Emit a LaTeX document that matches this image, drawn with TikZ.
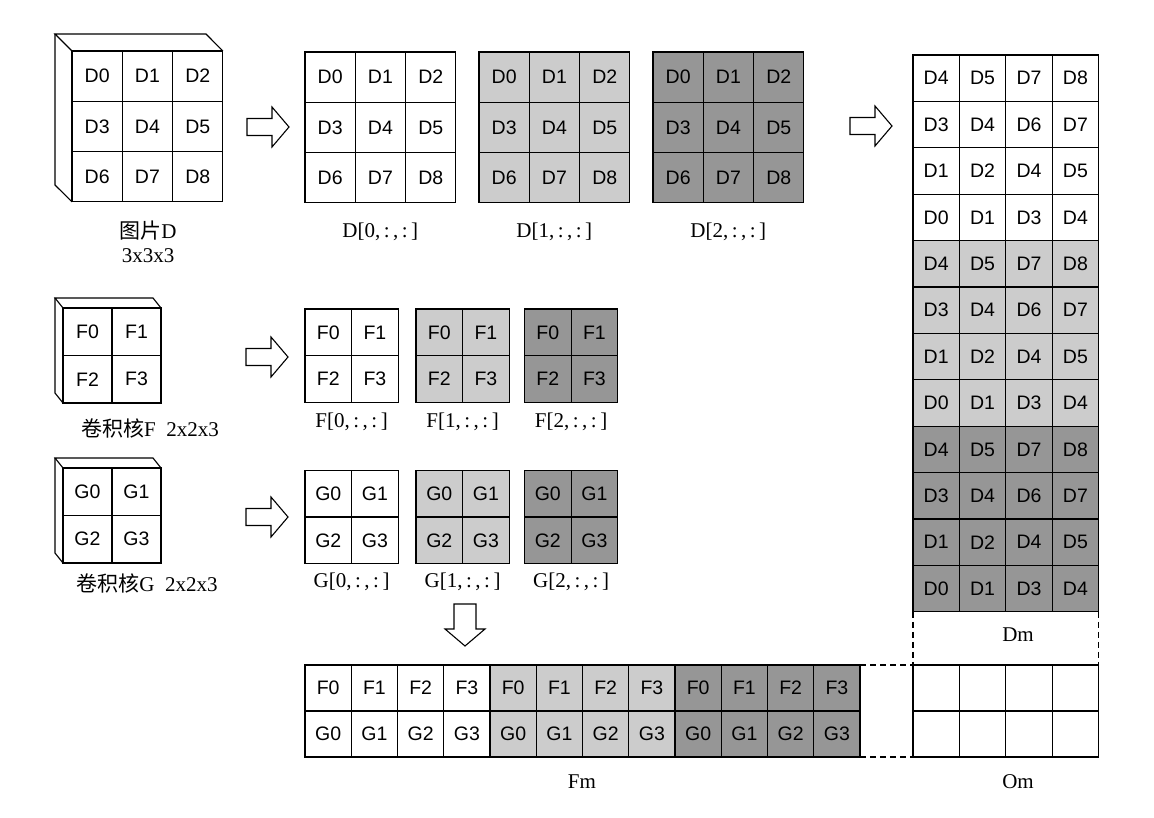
\documentclass[tikz,border=0pt]{standalone}
\usepackage{fontspec}
\setmainfont{Liberation Serif}
\setsansfont{Liberation Sans}
\newfontfamily\cjk{Noto Sans CJK SC}
\usepackage{tikz}
\colorlet{midgray}{black!20}
\colorlet{deepgray}{black!41}

\begin{document}
\begin{tikzpicture}[x=1pt, y=-1pt,
    edge/.style={line width=1.1pt},
    cell/.style={draw, edge, fill=white, inner sep=0pt, outer sep=0pt, anchor=north west,
      font=\sffamily\fontsize{19.5}{20}\selectfont},
    dcell/.style={cell, minimum width=50.3, minimum height=50.3},
    mcell/.style={cell, minimum width=46.4, minimum height=46.4},
    ocell/.style={cell, minimum width=46.4, minimum height=46},
    fmcell/.style={cell, minimum width=46.25, minimum height=46},
    kcell/.style={cell, minimum width=49, minimum height=47.5},
    scell/.style={cell, minimum width=46.6, minimum height=46.7},
    lbl/.style={font=\fontsize{21}{22}\selectfont},
    cjklbl/.style={font=\fontsize{21}{23}\selectfont},
    link/.style={edge, dash pattern=on 6pt off 4pt},
    rarrow/.pic={\draw[edge, fill=white] (0,-8.5) -- (25,-8.5) -- (25,-20) -- (42,0)
      -- (25,20) -- (25,8.5) -- (0,8.5) -- cycle;},
    darrow/.pic={\draw[edge, fill=white] (-11,0) -- (11,0) -- (11,25) -- (20,25)
      -- (0,42) -- (-20,25) -- (-11,25) -- cycle;}]

    \useasboundingbox (0,0) rectangle (1154,818);

    \foreach \rr in {0,1,2} {
      \foreach \cc in {0,1,2} {
        \pgfmathtruncatemacro\idx{3*\rr+\cc}
        \node [dcell] (pd-\idx) at ({72+50.3*\cc}, {51+50.3*\rr}) {D\idx};
      }
    }
    \draw [edge] (pd-0.north west) -- ++(-17,-17) -- ++(151,0) -- (pd-2.north east);
    \draw [edge] (pd-0.north west) ++(-17,-17) -- ++(0,151) -- (pd-6.south west);
    \node [cjklbl] (pdname) at (148,231) {{\cjk 图片}D};
    \node [lbl] (pdsize) at (148,256) {3x3x3};

    \foreach \k/\x/\col in {0/305/white, 1/479/midgray, 2/653/deepgray} {
      \foreach \rr in {0,1,2} {
        \foreach \cc in {0,1,2} {
          \pgfmathtruncatemacro\idx{3*\rr+\cc}
          \node [dcell, fill=\col] (d\k-\idx) at ({\x+50.3*\cc}, {52+50.3*\rr}) {D\idx};
        }
      }
      \node [lbl] (dlab\k) at ({\x+75.3}, 232) {D[\k,\,:\,,\,:\,]};
    }

    \foreach \b/\col in {0/white, 1/midgray, 2/deepgray} {
      \foreach \rr/\va/\vb/\vc/\vd in {0/4/5/7/8, 1/3/4/6/7, 2/1/2/4/5, 3/0/1/3/4} {
        \foreach \v [count=\cc from 0] in {\va,\vb,\vc,\vd} {
          \node [mcell, fill=\col] (dm-\b-\rr-\cc) at ({913+46.4*\cc}, {55+46.4*(4*\b+\rr)}) {D\v};
        }
      }
    }
    \node [lbl] (dmname) at (1018,635) {Dm};

    \foreach \rr in {0,1} {
      \foreach \cc in {0,...,3} {
        \node [ocell] (om-\rr-\cc) at ({913+46.4*\cc}, {665+46*\rr}) {};
      }
    }
    \node [lbl] (omname) at (1018,782) {Om};

    \foreach \rr in {0,1} {
      \foreach \cc in {0,1} {
        \pgfmathtruncatemacro\idx{2*\rr+\cc}
        \node [kcell] (kf-\idx) at ({63+49*\cc}, {308+47.5*\rr}) {F\idx};
        \node [kcell] (kg-\idx) at ({63+49*\cc}, {468+47.5*\rr}) {G\idx};
      }
    }
    \foreach \kk in {kf, kg} {
      \draw [edge] (\kk-0.north west) -- ++(-8,-10) -- ++(98,0) -- (\kk-1.north east);
      \draw [edge] (\kk-0.north west) ++(-8,-10) -- ++(0,95) -- (\kk-2.south west);
    }
    \node [cjklbl] (kfname) at (150,428) {{\cjk 卷积核}F\hspace{0.5em}2x2x3};
    \node [cjklbl] (kgname) at (147,583) {{\cjk 卷积核}G\hspace{0.5em}2x2x3};

    \foreach \k/\x/\col in {0/305/white, 1/416/midgray, 2/524.5/deepgray} {
      \foreach \rr in {0,1} {
        \foreach \cc in {0,1} {
          \pgfmathtruncatemacro\idx{2*\rr+\cc}
          \node [scell, fill=\col] (f\k-\idx) at ({\x+46.6*\cc}, {309+46.7*\rr}) {F\idx};
          \node [scell, fill=\col] (g\k-\idx) at ({\x+46.6*\cc}, {470.5+46.5*\rr}) {G\idx};
        }
      }
      \node [lbl] (flab\k) at ({\x+46.6}, 422) {F[\k,\,:\,,\,:\,]};
      \node [lbl] (glab\k) at ({\x+46.6}, 582) {G[\k,\,:\,,\,:\,]};
    }

    \foreach \b/\col in {0/white, 1/midgray, 2/deepgray} {
      \foreach \cc in {0,...,3} {
        \pgfmathtruncatemacro\idx{4*\b+\cc}
        \node [fmcell, fill=\col] (fm-0-\idx) at ({305+46.25*\idx}, 665) {F\cc};
        \node [fmcell, fill=\col] (fm-1-\idx) at ({305+46.25*\idx}, 711) {G\cc};
      }
    }
    \node [lbl] (fmname) at (582,782) {Fm};

    \pic (ard) at (247,127) {rarrow};
    \pic (arm) at (850,126) {rarrow};
    \pic (arf) at (246,357) {rarrow};
    \pic (arg) at (246,517) {rarrow};
    \pic (arfm) at (465,604) {darrow};

    \draw [link] (dm-2-3-0.south west) -- (om-0-0.north west);
    \draw [link] (dm-2-3-3.south east) -- (om-0-3.north east);
    \draw [link] (fm-0-11.north east) -- (om-0-0.north west);
    \draw [link] (fm-1-11.south east) -- (om-1-0.south west);
  \end{tikzpicture}
\end{document}
